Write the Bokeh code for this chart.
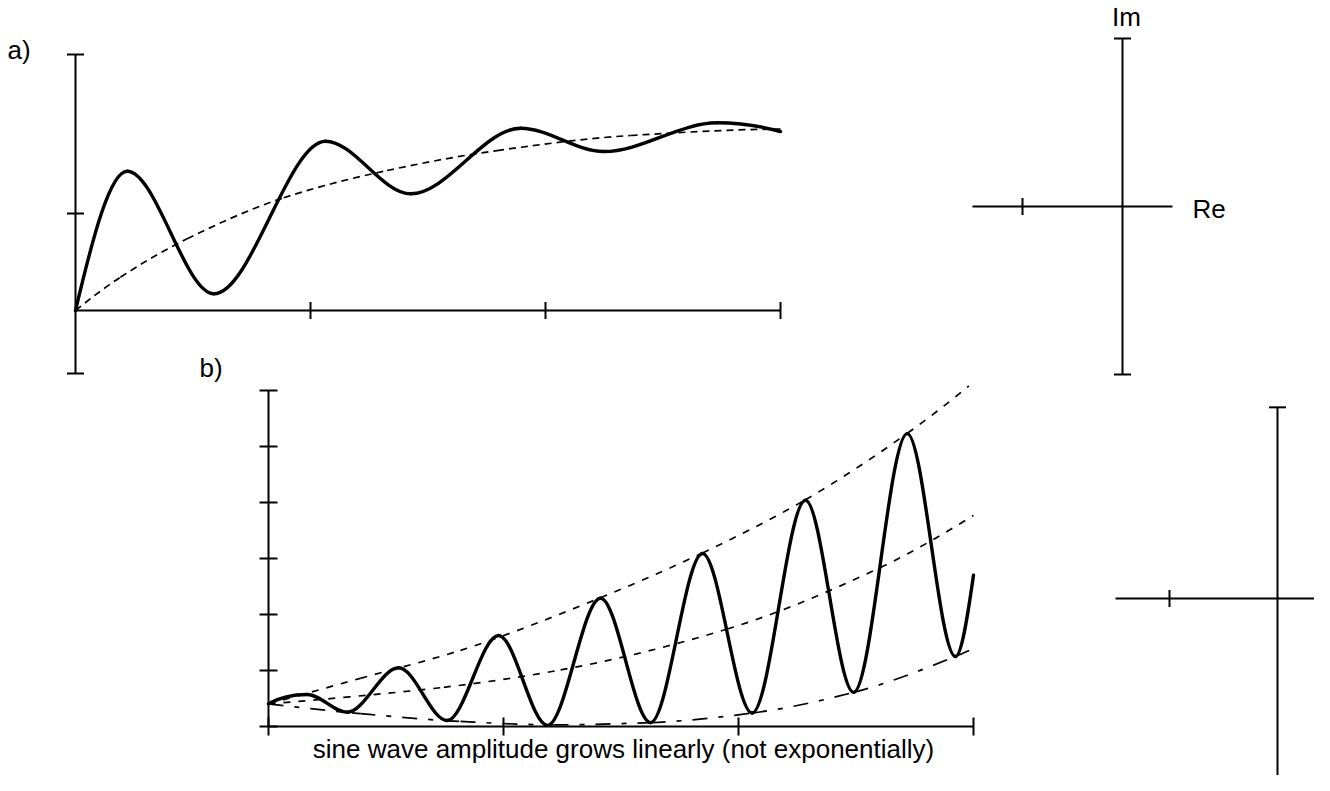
from bokeh.plotting import figure
from bokeh.models import Range1d
from bokeh.embed import file_html
from bokeh.resources import INLINE
from bokeh.core.properties import value

# ---------------- data ----------------
# panel a: step response (time units, response units) - start, then extremes
a_t = [0.0, 0.220, 0.589, 1.064, 1.426, 1.894, 2.248, 2.731, 3.0]
a_v = [0.0, 1.436, 0.172, 1.745, 1.203, 1.879, 1.639, 1.935, 1.845]
a_mean_t = [0.0, 0.191, 0.475, 0.886, 1.326, 1.794, 2.362, 3.0]
a_mean_v = [0.0, 0.343, 0.739, 1.162, 1.443, 1.649, 1.804, 1.87]
a_xticks = [1, 2, 3]
a_yticks = [1]
a_ylim = [-0.65, 2.64]

# panel b: sine wave with linearly growing amplitude - start, extremes, end
b_t = [0.0, 0.165, 0.335, 0.554, 0.760, 0.979, 1.187, 1.413, 1.626, 1.847, 2.058, 2.285, 2.49, 2.718, 2.923, 3.0]
b_v = [0.405, 0.571, 0.255, 1.048, 0.107, 1.625, 0.02, 2.29, 0.07, 3.09, 0.24, 4.04, 0.61, 5.23, 1.25, 2.70]
b_up_t = [0.0, 0.391, 0.817, 1.413, 1.847, 2.285, 2.72, 2.98]
b_up_v = [0.405, 0.86, 1.36, 2.30, 3.10, 4.05, 5.24, 6.08]
b_mid_t = [0.0, 0.320, 0.746, 1.243, 1.952, 2.604, 3.0]
b_mid_v = [0.405, 0.52, 0.70, 1.01, 1.74, 2.84, 3.77]
b_lo_t = [0.0, 0.391, 0.817, 1.213, 1.626, 2.058, 2.49, 2.923, 3.0]
b_lo_v = [0.405, 0.23, 0.09, 0.03, 0.07, 0.24, 0.61, 1.25, 1.39]
b_xticks = [0, 1, 2, 3]
b_yticks = [0, 1, 2, 3, 4, 5, 6]

# phasor diagrams (units: tick at -1 on the real axis)
ph_re = [-1.5, 0.5]
ph_a_im = [-1.68, 1.68]
ph_b_im = [-1.77, 1.77]
ph_re_ticks = [-1]

caption = "sine wave amplitude grows linearly (not exponentially)"

# ---------------- layout (picture pixels) ----------------
W, H = 1314, 775
FX0, FX1 = 0, W
FY0, FY1 = 0, H

def xr(origin_px, ppu):
    return Range1d((FX0 - origin_px) / ppu, (FX1 - origin_px) / ppu)

def yr(origin_px, ppu):
    return Range1d((origin_px - FY1) / ppu, (origin_px - FY0) / ppu)

p = figure(width=W, height=H, output_backend="svg", toolbar_location=None,
           x_range=Range1d(FX0, FX1), y_range=Range1d(FY1, FY0),
           x_axis_location=None, y_axis_location=None, min_border=0)
p.outline_line_color = None
p.xgrid.visible = False
p.ygrid.visible = False
p.background_fill_color = "white"
p.border_fill_color = "white"

A_PX, A_PY, A_SX, A_SY = 75, 310, 235.0, 97.0
B_PX, B_PY, B_SX, B_SY = 268, 726, 235.0, 56.0
PA_PX, PA_PY, PA_S = 1122, 206, 100.0
PB_PX, PB_PY, PB_S = 1277, 598, 108.0

p.extra_x_ranges = {"ax": xr(A_PX, A_SX), "bx": xr(B_PX, B_SX),
                    "pax": xr(PA_PX, PA_S), "pbx": xr(PB_PX, PB_S)}
p.extra_y_ranges = {"ay": yr(A_PY, A_SY), "by": yr(B_PY, B_SY),
                    "pay": yr(PA_PY, PA_S), "pby": yr(PB_PY, PB_S)}

AXW = 2.0
CURVE_W = 3.4
DASH_W = 1.7


def _sign(v):
    return (v > 0) - (v < 0)


def pchip_slopes(xs, ys):
    """Fritsch-Carlson tangents (zero at local extremes) for smooth rendering."""
    n = len(xs)
    h = [xs[i + 1] - xs[i] for i in range(n - 1)]
    d = [(ys[i + 1] - ys[i]) / h[i] for i in range(n - 1)]
    m = [0.0] * n
    for k in range(1, n - 1):
        if d[k - 1] * d[k] > 0:
            w1 = 2 * h[k] + h[k - 1]
            w2 = h[k] + 2 * h[k - 1]
            m[k] = (w1 + w2) / (w1 / d[k - 1] + w2 / d[k])

    def end(h0, h1, d0, d1):
        mm = ((2 * h0 + h1) * d0 - h0 * d1) / (h0 + h1)
        if _sign(mm) != _sign(d0):
            return 0.0
        if _sign(d0) != _sign(d1) and abs(mm) > abs(3 * d0):
            return 3 * d0
        return mm

    if n > 2:
        m[0] = end(h[0], h[1], d[0], d[1])
        m[-1] = end(h[-1], h[-2], d[-1], d[-2])
    else:
        m[0] = m[-1] = d[0]
    return m


def curve(xs, ys, xn, yn, **kw):
    """Smooth curve through the read points, drawn as cubic Bezier pieces."""
    m = pchip_slopes(xs, ys)
    x0, y0, x1, y1, cx0, cy0, cx1, cy1 = [], [], [], [], [], [], [], []
    for i in range(len(xs) - 1):
        hh = (xs[i + 1] - xs[i]) / 3.0
        x0.append(xs[i]); y0.append(ys[i]); x1.append(xs[i + 1]); y1.append(ys[i + 1])
        cx0.append(xs[i] + hh); cy0.append(ys[i] + m[i] * hh)
        cx1.append(xs[i + 1] - hh); cy1.append(ys[i + 1] - m[i + 1] * hh)
    p.bezier(x0=x0, y0=y0, x1=x1, y1=y1, cx0=cx0, cy0=cy0, cx1=cx1, cy1=cy1,
             x_range_name=xn, y_range_name=yn, **kw)


def seg(x0, y0, x1, y1, xn, yn, w=AXW):
    p.segment(x0=x0, y0=y0, x1=x1, y1=y1, x_range_name=xn, y_range_name=yn,
              line_color="black", line_width=w)

# ---- panel a axes
seg([0], [a_ylim[0]], [0], [a_ylim[1]], "ax", "ay")
seg([0], [0], [a_xticks[-1]], [0], "ax", "ay")
tk = 8.5
seg([-tk / A_SX] * 2, a_ylim, [tk / A_SX] * 2, a_ylim, "ax", "ay")
seg([-tk / A_SX] * len(a_yticks), a_yticks, [tk / A_SX] * len(a_yticks), a_yticks, "ax", "ay")
seg(a_xticks, [-tk / A_SY] * len(a_xticks), a_xticks, [tk / A_SY] * len(a_xticks), "ax", "ay")

curve(a_mean_t, a_mean_v, "ax", "ay", line_color="black", line_width=DASH_W, line_dash="7 5")
curve(a_t, a_v, "ax", "ay", line_color="black", line_width=CURVE_W, line_cap="round")

# ---- panel b axes
seg([0], [b_yticks[0]], [0], [b_yticks[-1]], "bx", "by")
seg([b_xticks[0]], [0], [b_xticks[-1]], [0], "bx", "by")
tk = 9
seg([-tk / B_SX] * len(b_yticks), b_yticks, [tk / B_SX] * len(b_yticks), b_yticks, "bx", "by")
seg(b_xticks, [-tk / B_SY] * len(b_xticks), b_xticks, [tk / B_SY] * len(b_xticks), "bx", "by")

curve(b_up_t, b_up_v, "bx", "by", line_color="black", line_width=DASH_W, line_dash="7 8")
curve(b_mid_t, b_mid_v, "bx", "by", line_color="black", line_width=DASH_W, line_dash="7 8")
curve(b_lo_t, b_lo_v, "bx", "by", line_color="black", line_width=DASH_W, line_dash="15 11 5 11")
curve(b_t, b_v, "bx", "by", line_color="black", line_width=CURVE_W, line_cap="round")

# ---- phasor diagrams
for (xn, yn, s, im) in [("pax", "pay", PA_S, ph_a_im), ("pbx", "pby", PB_S, ph_b_im)]:
    seg([ph_re[0]], [0], [ph_re[1]], [0], xn, yn)
    seg([0], [im[0]], [0], [im[1]], xn, yn)
    cap = 8.5 / s
    seg([-cap] * 2, im, [cap] * 2, im, xn, yn)
    seg(ph_re_ticks, [-cap], ph_re_ticks, [cap], xn, yn)

# ---- texts
FONT = value("Liberation Sans")
def txt(x, y, s, align="left"):
    p.text(x=[x], y=[y], text=[s], text_font=FONT, text_font_size="26px",
           text_color="black", text_align=align, text_baseline="alphabetic")

txt(7, 49, "a)")
txt(199, 367, "b)")
txt(1126, 16, "Im", "center")
txt(1192, 208, "Re")
txt(623, 748, caption, "center")

open("out.html", "w").write(file_html(p, INLINE))
